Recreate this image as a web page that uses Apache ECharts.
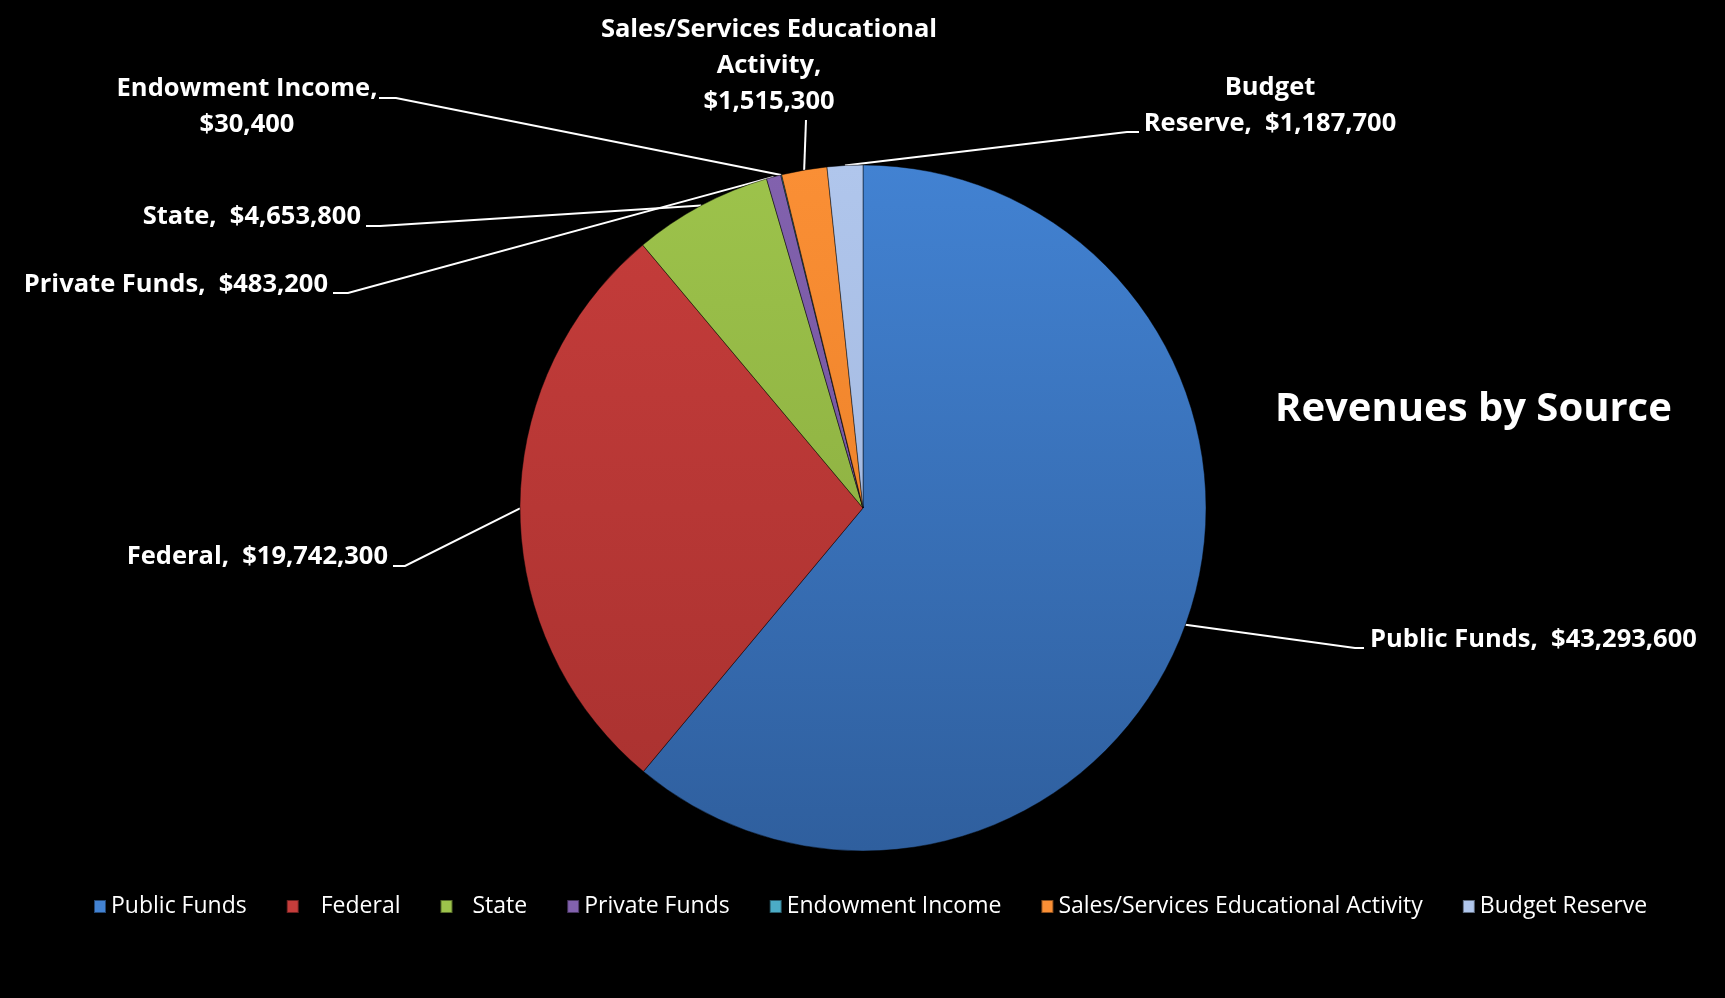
<!DOCTYPE html>
<html>
<head>
<meta charset="utf-8">
<script src="https://cdn.jsdelivr.net/npm/echarts@6/dist/echarts.min.js"></script>
<style>
html,body{margin:0;padding:0;background:#000;}
#main{width:1725px;height:998px;}
</style>
</head>
<body>
<div id="main"></div>
<script>
// ---- data ----
const categories = ['Public Funds', 'Federal', 'State', 'Private Funds', 'Endowment Income', 'Sales/Services Educational Activity', 'Budget Reserve'];
const values = [43293600, 19742300, 4653800, 483200, 30400, 1515300, 1187700];
const titleText = 'Revenues by Source';

// ---- styling / layout ----
const colorsTop = ['#4282d2', '#c63d3b', '#9dc34b', '#8262ae', '#4bacc6', '#fa8f35', '#b0c6ec'];
const colorsBot = ['#2f5f9e', '#a8312f', '#84a53c', '#6a4c94', '#3a8fa6', '#e57a22', '#9bb0d8'];
const labelWrap = {
  'Endowment Income': 'Endowment Income,\n{v}',
  'Sales/Services Educational Activity': 'Sales/Services Educational\nActivity,\n{v}',
  'Budget Reserve': 'Budget\nReserve,  {v}'
};
// label anchor & leader-line layout (px)
const labelPos = {
  'Public Funds':   {x: 1370, y: 640, align: 'left',   knee: [1355, 648], end: [1364, 648]},
  'Federal':        {x: 388,  y: 557, align: 'right',  knee: [405, 566],  end: [393, 566]},
  'State':          {x: 361,  y: 217, align: 'right',  knee: [380, 226],  end: [366, 226]},
  'Private Funds':  {x: 328,  y: 285, align: 'right',  knee: [348, 293],  end: [333, 293]},
  'Endowment Income': {x: 247, y: 107, align: 'center', knee: [396, 98], end: [379, 98]},
  'Sales/Services Educational Activity': {x: 769, y: 66, align: 'center', knee: null, end: [806, 120]},
  'Budget Reserve': {x: 1270, y: 106, align: 'center', knee: [1127, 132], end: [1139, 132]}
};

function fmt(v) { return '$' + v.toLocaleString('en-US'); }

const CX = 863, CY = 508, R = 343;
const FONT = '"Open Sans", "Noto Sans", sans-serif';

const chart = echarts.init(document.getElementById('main'));

const seriesData = categories.map((c, i) => ({
  name: c,
  value: values[i],
  itemStyle: {
    color: {
      type: 'linear', x: 0, y: CY - R, x2: 0, y2: CY + R, global: true,
      colorStops: [{offset: 0, color: colorsTop[i]}, {offset: 1, color: colorsBot[i]}]
    }
  }
}));

const legendData = categories.map((c, i) => {
  const d = {name: c, itemStyle: {color: colorsTop[i]}};
  if (c === 'Federal') d.textStyle = {padding: [0, 0, 0, 17]};
  if (c === 'State') d.textStyle = {padding: [0, 0, 0, 15]};
  return d;
});

const option = {
  backgroundColor: '#000000',
  animation: false,
  title: {
    text: titleText,
    left: 1270,
    top: 381,
    textStyle: {color: '#ffffff', fontFamily: FONT, fontWeight: 'bold', fontSize: 40, lineHeight: 48}
  },
  legend: {
    data: legendData,
    bottom: 75,
    left: 88,
    itemWidth: 12,
    itemHeight: 13,
    itemGap: 39,
    icon: 'rect',
    textStyle: {color: '#ffffff', fontFamily: FONT, fontSize: 23},
    selectedMode: false
  },
  series: [{
    type: 'pie',
    center: [CX, CY],
    radius: [0, R],
    startAngle: 90,
    clockwise: true,
    avoidLabelOverlap: false,
    data: seriesData,
    itemStyle: {borderColor: 'rgba(0,0,0,0.45)', borderWidth: 1},
    emphasis: {disabled: true},
    label: {
      show: true,
      color: '#ffffff',
      fontFamily: FONT,
      fontWeight: 'bold',
      fontSize: 25.5,
      lineHeight: 36,
      formatter: function (p) {
        const v = fmt(p.value);
        if (labelWrap[p.name]) return labelWrap[p.name].replace('{v}', v);
        return p.name + ',  ' + v;
      }
    },
    labelLine: {show: true, length: 20, length2: 20, lineStyle: {color: '#ffffff', width: 2}},
    labelLayout: function (params) {
      const name = categories[params.dataIndex];
      const L = labelPos[name];
      const p0 = params.labelLinePoints ? params.labelLinePoints[0] : [CX, CY];
      const pts = [p0];
      if (L.knee) pts.push(L.knee);
      pts.push(L.end);
      if (pts.length === 2) pts.push(L.end);
      return {x: L.x, y: L.y, align: L.align, verticalAlign: 'middle', labelLinePoints: pts};
    }
  }]
};
chart.setOption(option);
</script>
</body>
</html>
